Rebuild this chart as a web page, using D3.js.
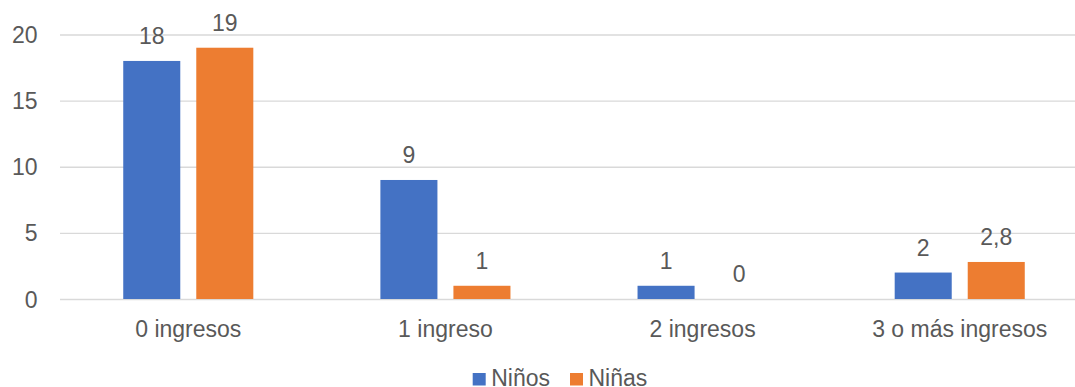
<!DOCTYPE html>
<html>
<head>
<meta charset="utf-8">
<script src="https://cdn.jsdelivr.net/npm/d3@7/dist/d3.min.js"></script>
<style>
  html, body { margin: 0; padding: 0; background: #fff; }
  svg { display: block; }
  text { font-family: "Liberation Sans", Arial, sans-serif; fill: #595959; font-size: 23px; }
</style>
</head>
<body>
<svg id="chart" width="1075" height="387"></svg>
<script>
// Número de ingresos por niños y niñas
const categories = ["0 ingresos", "1 ingreso", "2 ingresos", "3 o más ingresos"];
const seriesNames = ["Niños", "Niñas"];
const ninos = [18, 9, 1, 2];
const ninas = [19, 1, 0, 2.8];
const yTicks = [0, 5, 10, 15, 20];

const colors = { "Niños": "#4472C4", "Niñas": "#ED7D31" };
const fmt = v => String(v).replace(".", ",");

const width = 1075, height = 387;
const svg = d3.select("#chart");

const x0 = d3.scaleBand().domain(categories).range([59.7, 1088.3]).paddingInner(0).paddingOuter(0);
const x1 = d3.scaleBand().domain(seriesNames).range([0, x0.bandwidth()]).paddingInner(0.219).paddingOuter(0.87);
const y = d3.scaleLinear().domain([0, 20]).range([299, 34.5]);

// Horizontal gridlines
const gridAxis = d3.axisLeft(y).tickValues(yTicks).tickSize(-(width - 60)).tickFormat("");
const grid = svg.append("g").attr("transform", "translate(60,0)").call(gridAxis);
grid.select(".domain").remove();
grid.selectAll("line").attr("stroke", "#D9D9D9").attr("stroke-width", 1.3);

// Y axis labels
const yAxis = d3.axisLeft(y).tickValues(yTicks).tickSize(0).tickPadding(0);
const ya = svg.append("g").attr("transform", "translate(37.5,0)").call(yAxis);
ya.select(".domain").remove();
ya.selectAll("text").attr("font-size", null).attr("font-family", null).attr("fill", null)
  .attr("dy", "0.35em");

// Category labels
const xAxis = d3.axisBottom(x0).tickSize(0).tickPadding(0);
const xa = svg.append("g").attr("transform", "translate(0,337)").call(xAxis);
xa.select(".domain").remove();
xa.selectAll("text").attr("dy", null).attr("y", 0);
xa.attr("font-size", null).attr("font-family", null);

// Bars
const rows = categories.map((c, i) => ({ cat: c, values: [
  { key: "Niños", value: ninos[i] },
  { key: "Niñas", value: ninas[i] }
]}));

const groups = svg.append("g").selectAll("g").data(rows).join("g")
  .attr("transform", d => `translate(${x0(d.cat)},0)`);

groups.selectAll("rect").data(d => d.values).join("rect")
  .attr("x", d => x1(d.key))
  .attr("width", x1.bandwidth())
  .attr("y", d => y(d.value))
  .attr("height", d => y(0) - y(d.value))
  .attr("fill", d => colors[d.key]);

groups.selectAll("text.lbl").data(d => d.values).join("text")
  .attr("class", "lbl")
  .attr("x", d => x1(d.key) + x1.bandwidth() / 2)
  .attr("y", d => y(d.value) - 17)
  .attr("text-anchor", "middle")
  .text(d => fmt(d.value));

// Legend
const legend = svg.append("g").attr("transform", "translate(472.7,373)");
const legendX = [0, 97.3];
seriesNames.forEach((name, i) => {
  const g = legend.append("g").attr("transform", `translate(${legendX[i]},0)`);
  g.append("rect").attr("width", 13).attr("height", 12.5).attr("fill", colors[name]);
  g.append("text").attr("x", 18.5).attr("y", 13).text(name);
});
</script>
</body>
</html>
